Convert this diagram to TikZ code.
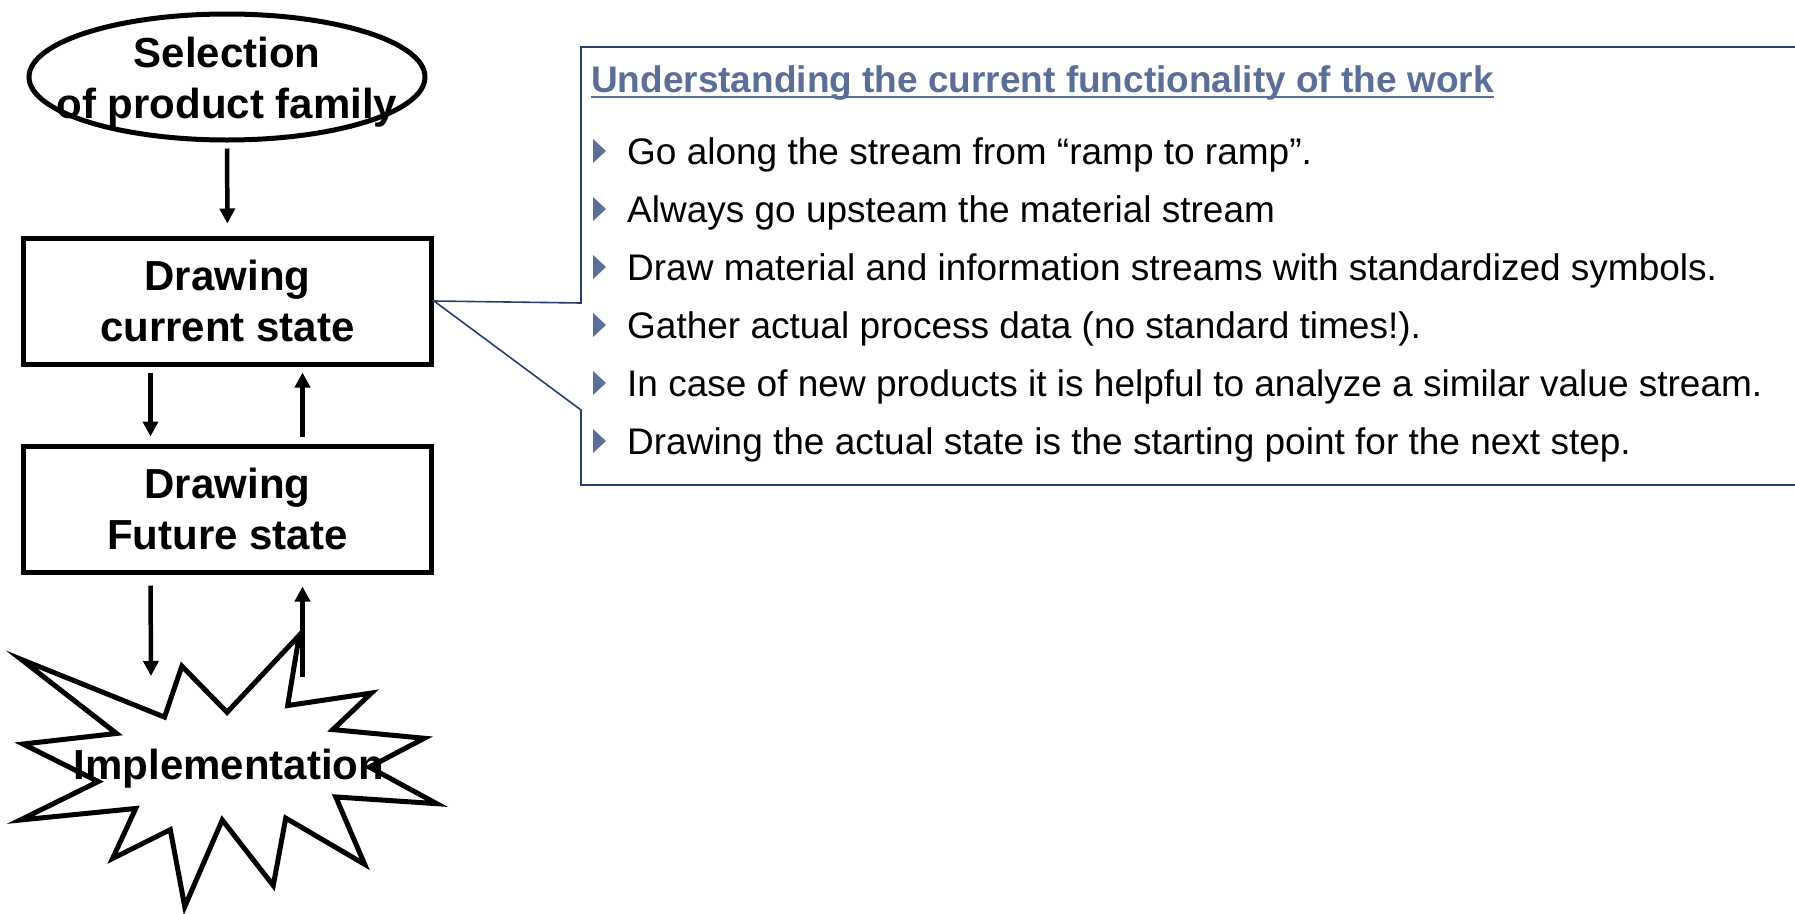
\documentclass[tikz,border=0pt]{standalone}
\usepackage{fontspec}
\setmainfont{Liberation Sans}
\usetikzlibrary{shapes.geometric, arrows.meta, positioning}

\definecolor{navy}{RGB}{36,64,107}
\definecolor{slate}{RGB}{90,110,152}

\begin{document}
\begin{tikzpicture}[
    x=1pt, y=-1pt,
    every node/.style={inner sep=0pt},
    bigfont/.style={font=\bfseries\fontsize{42}{51}\selectfont},
    stepbox/.style={draw, line width=5pt, minimum width=408pt, minimum height=126pt, align=center, bigfont},
    flow/.style={line width=4.5pt, -{Triangle[length=15pt,width=15pt]}},
    callout/.style={draw=navy, line width=1.6pt},
    bullet/.style={anchor=base west, font=\fontsize{37}{44}\selectfont}
  ]
  \useasboundingbox (0,0) rectangle (1795,913);

  % left column
  \node[ellipse, draw, line width=5pt, minimum width=396pt, minimum height=126pt,
        label={[align=center, bigfont, yshift=-5pt]center:{Selection\\of product family}}] (sel) at (227,77) {};
  \node[stepbox] (cur) at (227.5,301) {Drawing\\current state};
  \node[stepbox, below=77pt of cur] (fut) {Drawing\\Future state};

  % starburst
  \begin{scope}[shift={(229,770)}, scale=0.962, shift={(-229,-770)}]
  \draw[line width=5pt, line join=miter]
    (13,655) -- (162,715) -- (180,662) -- (227,710) -- (302,630) -- (290,703)
    -- (377,690) -- (337,728) -- (432,737) -- (375,767) -- (445,805) -- (340,798)
    -- (370,868) -- (288,820) -- (275,890) -- (222,822) -- (183,912) -- (168,832)
    -- (108,862) -- (132,810) -- (12,822) -- (93,782) -- (15,743) -- (112,732) -- cycle;
  \end{scope}
  \node[bigfont] (impl) at (229,769) {Implementation};

  \coordinate (dn) at (151,676);
  \coordinate (up) at (302.5,677);

  % arrows
  \draw[flow, shorten <=6pt, shorten >=12pt] (sel) -- (cur);
  \draw[flow, shorten <=6pt, shorten >=7pt] ([xshift=-77pt]cur.south) -- ([xshift=-77pt]fut.north);
  \draw[flow, shorten <=7pt, shorten >=6pt] ([xshift=75pt]fut.north) -- ([xshift=75pt]cur.south);
  \draw[flow, shorten <=11pt] ([xshift=-77pt]fut.south) -- (dn);
  \draw[flow, shorten >=12pt] (up) -- ([xshift=75pt]fut.south);

  % callout
  \draw[callout] (1800,47) -- (581,47) -- (581,303) -- (cur.east) -- (581,410) -- (581,485) -- (1800,485);

  \node[anchor=base west, font=\bfseries\fontsize{37}{44}\selectfont, text=slate] (title) at (591,92)
    {Understanding the current functionality of the work};
  \draw[slate, line width=2.5pt] ([yshift=-5pt]title.base west) -- ([yshift=-5pt]title.base east);

  \foreach \txt [count=\i] in {
      {Go along the stream from “ramp to ramp”.},
      {Always go upsteam the material stream},
      {Draw material and information streams with standardized symbols.},
      {Gather actual process data (no standard times!).},
      {In case of new products it is helpful to analyze a similar value stream.},
      {Drawing the actual state is the starting point for the next step.}} {
    \node[bullet] (b\i) at (627,{106+58*\i}) {\txt};
    \fill[slate] ([shift={(-34,-25)}]b\i.base west) -- ++(13,12) -- ++(-13,12) -- cycle;
  }
\end{tikzpicture}
\end{document}
